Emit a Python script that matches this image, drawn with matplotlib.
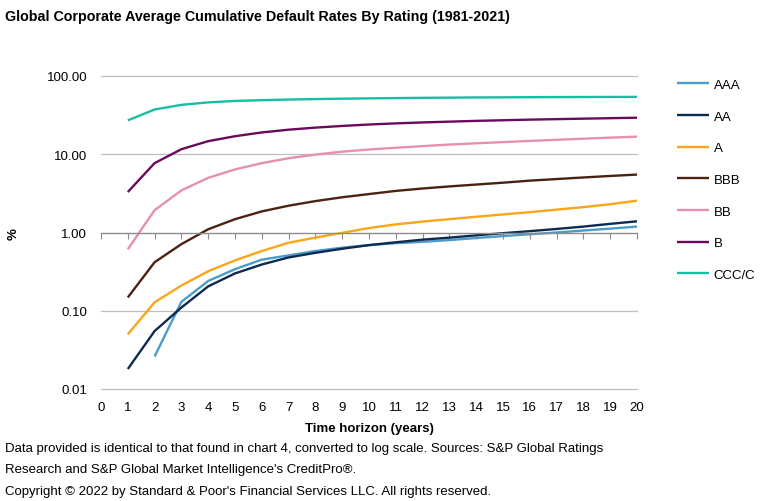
import matplotlib
matplotlib.use("Agg")
import matplotlib.pyplot as plt
import numpy as np

plt.rcParams['font.family'] = ['Liberation Sans', 'DejaVu Sans']

years = list(range(1, 21))
ratings = ["AAA", "AA", "A", "BBB", "BB", "B", "CCC/C"]

aaa = [None, 0.026, 0.13, 0.24, 0.34, 0.45, 0.51, 0.58, 0.64, 0.69, 0.73, 0.76, 0.80, 0.85, 0.90, 0.95, 1.00, 1.06, 1.12, 1.19]
aa = [0.018, 0.055, 0.11, 0.205, 0.30, 0.39, 0.48, 0.55, 0.62, 0.69, 0.75, 0.81, 0.86, 0.92, 0.98, 1.04, 1.11, 1.19, 1.29, 1.39]
a_ = [0.050, 0.128, 0.21, 0.32, 0.44, 0.58, 0.74, 0.86, 0.99, 1.14, 1.27, 1.38, 1.48, 1.59, 1.70, 1.82, 1.96, 2.11, 2.30, 2.55]
bbb = [0.148, 0.417, 0.71, 1.10, 1.48, 1.86, 2.20, 2.52, 2.82, 3.10, 3.40, 3.65, 3.88, 4.10, 4.33, 4.60, 4.82, 5.05, 5.28, 5.50]
bb = [0.61, 1.93, 3.45, 5.0, 6.4, 7.7, 8.9, 9.9, 10.8, 11.5, 12.1, 12.7, 13.3, 13.8, 14.3, 14.8, 15.3, 15.8, 16.3, 16.8]
b_ = [3.29, 7.7, 11.6, 14.7, 17.0, 19.0, 20.6, 21.9, 23.0, 24.0, 24.8, 25.5, 26.1, 26.7, 27.2, 27.7, 28.1, 28.5, 28.9, 29.3]
ccc = [27.1, 37.3, 42.8, 46.0, 48.0, 49.1, 50.0, 50.7, 51.3, 51.8, 52.2, 52.6, 52.9, 53.2, 53.4, 53.6, 53.8, 53.9, 54.0, 54.1]

series = [aaa, aa, a_, bbb, bb, b_, ccc]
colors = ["#4B9CC8", "#0E2A50", "#FBA51A", "#4B2212", "#E68FAE", "#6B0A5C", "#16BFA3"]

ytick_vals = [0.01, 0.1, 1, 10, 100]
ytick_labels = ["0.01", "0.10", "1.00", "10.00", "100.00"]
xticks = list(range(0, 21))

fig = plt.figure(figsize=(7.63, 5.02), dpi=100)
ax = fig.add_axes([101/763, 1-390/502, (637-101)/763, (390-77)/502])

for name, vals, c in zip(ratings, series, colors):
    y = np.array([np.nan if v is None else v for v in vals], dtype=float)
    ax.plot(years, y, color=c, lw=1.7, label=name, solid_capstyle='butt')

ax.set_yscale('log')
ax.set_ylim(0.01, 100)
ax.set_xlim(0, 20)
ax.set_yticks(ytick_vals)
ax.set_yticklabels(ytick_labels)
ax.yaxis.set_minor_locator(matplotlib.ticker.NullLocator())
ax.tick_params(axis='y', length=0, pad=10, labelsize=9.5)
for yv in ytick_vals:
    if yv != 1:
        ax.axhline(yv, color="#BFBFBF", lw=0.9, zorder=0, clip_on=False)

for s in ['top', 'right', 'left']:
    ax.spines[s].set_visible(False)
ax.spines['bottom'].set_position(('data', 1))
ax.spines['bottom'].set_color('#8C8C8C')
ax.spines['bottom'].set_linewidth(1.0)
ax.set_xticks(xticks)
ax.tick_params(axis='x', direction='out', length=4, color='#8C8C8C', labelbottom=False)

sec = ax.secondary_xaxis(0)
sec.set_xticks(xticks)
sec.set_xticklabels([str(t) for t in xticks])
sec.tick_params(length=0, pad=9, labelsize=9.5)
sec.spines['bottom'].set_visible(False)
sec.set_xlabel("Time horizon (years)", fontweight='bold', fontsize=9.5, labelpad=6)

fig.text(14/763, 1-234/502, "%", fontweight='bold', fontsize=9.5, rotation=90, ha='center', va='center')

fig.text(5/763, 1-17/502, "Global Corporate Average Cumulative Default Rates By Rating (1981-2021)",
         fontweight='bold', fontsize=10.3, ha='left', va='center')

foot = ["Data provided is identical to that found in chart 4, converted to log scale. Sources: S&P Global Ratings",
        "Research and S&P Global Market Intelligence's CreditPro®.",
        "Copyright © 2022 by Standard & Poor's Financial Services LLC. All rights reserved."]
for i, t in enumerate(foot):
    fig.text(5/763, 1-(449+21.5*i)/502, t, fontsize=9.5, ha='left', va='center')

leg = fig.legend(loc='upper left', bbox_to_anchor=(665/763, 1-68/502), frameon=False,
                 fontsize=9.5, handlelength=2.4, handletextpad=0.4, labelspacing=1.47)

fig.savefig("out.png", dpi=100)
